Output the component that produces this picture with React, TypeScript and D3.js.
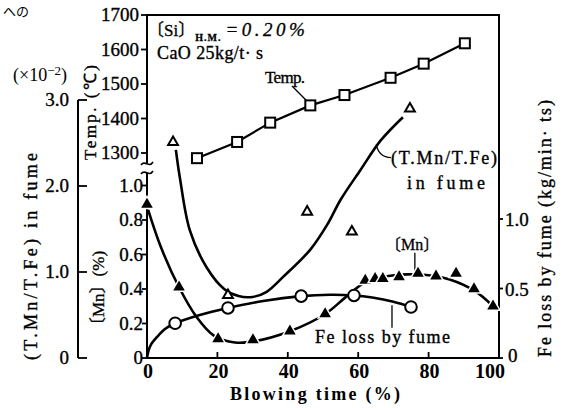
import React from 'react';
import * as d3 from 'd3';

// ---- Data ----
const xTicks = [0, 20, 40, 60, 80, 100];
const tempTicks = [1300, 1400, 1500, 1600, 1700];
const mnTicks = [0, 0.2, 0.4, 0.6, 0.8, 1.0];
const ratioTicks = [0, 1.0, 2.0, 3.0];
const feTicks = [0, 0.5, 1.0];

// Temperature (open squares)
const tempX = [14.2, 25.6, 35.0, 46.4, 56.1, 69.2, 78.6, 90.3];
const tempY = [1285, 1332, 1388, 1438, 1468, 1518, 1559, 1618];

// (T.Mn/T.Fe) in fume, x10^-2 (open triangles) and its fitted curve
const ratioX = [7.4, 23.0, 45.5, 58.2, 74.7];
const ratioY = [2.51, 0.73, 1.70, 1.47, 2.90];
const ratioFitX = [8.2, 9.4, 12.2, 17.0, 22.0, 26.0, 30.0, 34.0, 38.6, 46.4, 51.2, 55.0, 60.7, 66.4, 72.7];
const ratioFitY = [2.42, 2.08, 1.48, 1.05, 0.80, 0.72, 0.71, 0.77, 0.94, 1.26, 1.55, 1.84, 2.19, 2.53, 2.80];

// [Mn] (%) (filled triangles) and its fitted curve
const mnX = [0, 9.1, 20.2, 30.1, 40.6, 50.6, 62.0, 64.8, 67.0, 71.6, 77.0, 82.1, 87.8, 92.9, 98.3];
const mnY = [0.89, 0.41, 0.11, 0.105, 0.155, 0.255, 0.45, 0.46, 0.46, 0.47, 0.49, 0.475, 0.49, 0.40, 0.30];
const mnFitX = [0.3, 4, 9.1, 14, 19, 25, 30, 40.6, 50.6, 56.3, 62, 67, 74, 80, 86, 93, 98.3];
const mnFitY = [0.86, 0.64, 0.41, 0.24, 0.13, 0.09, 0.095, 0.155, 0.255, 0.35, 0.44, 0.47, 0.485, 0.48, 0.455, 0.39, 0.30];

// Fe loss by fume (kg/min·ts) (open circles) and its fitted curve
const feX = [8.0, 23.0, 43.8, 58.8, 75.0];
const feY = [0.25, 0.36, 0.445, 0.45, 0.367];
const feFitX = [0, 0.4, 1.2, 2.8, 5.2, 8.0, 15, 23, 33, 43.8, 52, 58.8, 64, 70, 75];
const feFitY = [0, 0.05, 0.1, 0.15, 0.21, 0.25, 0.31, 0.36, 0.41, 0.445, 0.455, 0.45, 0.435, 0.405, 0.367];

const serif = "Liberation Serif, Times New Roman, serif";
const cjk = "Liberation Serif, Noto Sans CJK JP, serif";

export default function App() {
  const W = 565, H = 408;
  const x = d3.scaleLinear().domain([0, 100]).range([147, 499]);
  const yTemp = d3.scaleLinear().domain([1300, 1700]).range([153, 15]);
  const yMn = d3.scaleLinear().domain([0, 1]).range([358, 185.5]);
  const yRatio = d3.scaleLinear().domain([0, 3]).range([358, 100]);
  const yFe = d3.scaleLinear().domain([0, 1]).range([358, 219]);

  const curve = d3.curveCatmullRom.alpha(0.5);
  const fit = (xs: number[], ys: number[], ys2: (v: number) => number) =>
    d3.line<number>().x((_, i) => x(xs[i])).y((_, i) => ys2(ys[i])).curve(curve)(xs) || '';

  const tempLine = d3.line<number>().x((_, i) => x(tempX[i])).y((_, i) => yTemp(tempY[i]))(tempX) || '';
  const ratioPath = fit(ratioFitX, ratioFitY, yRatio);
  const mnPath = fit(mnFitX, mnFitY, yMn);
  const fePath = fit(feFitX, feFitY, yFe);

  const triOpen = d3.symbol(d3.symbolTriangle, 42)() || '';
  const triFill = d3.symbol(d3.symbolTriangle, 58)() || '';
  const triHalo = d3.symbol(d3.symbolTriangle, 120)() || '';

  const L = x(0), R = x(100), T = yTemp(1700), B = yMn(0);
  const txt = { fontFamily: serif, fill: '#000' } as const;
  const num = { fontFamily: serif, fill: '#000', stroke: '#000', strokeWidth: 0.35 } as const;
  const txtC = { fontFamily: cjk, fill: '#000', stroke: '#000', strokeWidth: 0.3 } as const;

  // leader positions (data units converted through scales)
  const tLead = [x(41.2), yTemp(1494), x(45.5), yTemp(1450)];
  const rL0 = [x(65.1), yRatio(2.48)], rL1 = [x(69.3), yRatio(2.33)];
  const mnLead = [x(76.1), yMn(0.61), yMn(0.505)];
  const feLead = [x(69.6), yFe(0.38), yFe(0.218)];

  return (
    <svg width={W} height={H} fontFamily={serif} style={{ position: 'absolute', left: 0, top: 0, background: '#fff' }}>
      <rect width={W} height={H} fill="#fff" />
      {/* heading fragment */}
      <text x={3} y={16} fontSize={13} style={{ fontFamily: "Noto Sans CJK JP, sans-serif", fill: '#000' }}>への</text>

      {/* frame */}
      <rect x={L} y={T} width={R - L} height={B - T} fill="none" stroke="#000" strokeWidth={2} />
      {/* axis break on left spine */}
      <rect x={L - 3} y={163} width={6} height={10} fill="#fff" />
      <path d={`M${L - 6},165 C${L - 2},159 ${L + 2},169 ${L + 6},162`} fill="none" stroke="#000" strokeWidth={1.6} />
      <path d={`M${L - 6},174 C${L - 2},168 ${L + 2},178 ${L + 6},171`} fill="none" stroke="#000" strokeWidth={1.6} />

      {/* x ticks (inward) */}
      {xTicks.map((t, i) => (
        <g key={'xt' + t}>
          {t > 0 && t < 100 && <line x1={x(t)} x2={x(t)} y1={B} y2={B - 6} stroke="#000" strokeWidth={1.8} />}
          <text x={x(t)} dx={i === xTicks.length - 1 ? -9 : 1} y={378} fontSize={20} fontWeight="bold" textAnchor="middle" style={txt}>{t}</text>
        </g>
      ))}
      <text x={230} y={400} fontSize={18} fontWeight="bold" textLength={170} lengthAdjust="spacing" style={txt}>Blowing time (%)</text>

      {/* Temp axis */}
      {tempTicks.map(t => (
        <g key={'tt' + t}>
          <line x1={L - 6} x2={L} y1={yTemp(t)} y2={yTemp(t)} stroke="#000" strokeWidth={1.8} />
          <text x={139} y={yTemp(t) + 6} fontSize={19} textAnchor="end" style={num}>{t}</text>
        </g>
      ))}
      <text transform="translate(96,160) rotate(-90)" fontSize={17} textLength={95} lengthAdjust="spacing" style={num}>Temp. (℃)</text>

      {/* Mn axis */}
      {mnTicks.map(t => (
        <g key={'mt' + t}>
          <line x1={L - 5} x2={L} y1={yMn(t)} y2={yMn(t)} stroke="#000" strokeWidth={1.8} />
          <text x={143} y={yMn(t) + 6} fontSize={19} textAnchor="end" style={num}>{t === 0 ? '0' : t.toFixed(1)}</text>
        </g>
      ))}
      <text transform="translate(104,334) rotate(-90)" fontSize={17} style={txtC}>〔Mn〕(%)</text>

      {/* (T.Mn/T.Fe) axis (outer left) */}
      <line x1={78} x2={78} y1={yRatio(3)} y2={yRatio(0)} stroke="#000" strokeWidth={2} />
      {ratioTicks.map(t => (
        <g key={'rt' + t}>
          <line x1={78} x2={87} y1={yRatio(t)} y2={yRatio(t)} stroke="#000" strokeWidth={1.8} />
          <text x={69} y={yRatio(t) + 6} fontSize={19} textAnchor="end" style={num}>{t === 0 ? '0' : t.toFixed(1)}</text>
        </g>
      ))}
      <text x={13} y={81} fontSize={18} style={txt}>(×10<tspan dy={-6} fontSize={13}>−2</tspan><tspan dy={6}>)</tspan></text>
      <text transform="translate(37,360) rotate(-90)" fontSize={18} textLength={207} lengthAdjust="spacing" style={num}>(T.Mn/T.Fe) in fume</text>

      {/* Fe loss axis (right) */}
      {feTicks.map(t => (
        <g key={'ft' + t}>
          <line x1={R} x2={R + 4} y1={yFe(t)} y2={yFe(t)} stroke="#000" strokeWidth={1.8} />
          <text x={t === 0 ? 508 : 505} y={yFe(t) + (t === 0 ? 4 : 7)} fontSize={19} style={num}>{t === 0 ? '0' : t.toFixed(1)}</text>
        </g>
      ))}
      <text transform="translate(551,357) rotate(-90)" fontSize={18} textLength={257} lengthAdjust="spacing" style={num}>Fe loss by fume (kg/min· ts)</text>

      {/* annotations */}
      <text x={147} y={36} fontSize={17} style={txtC}>
        〔Si〕<tspan dy={5} fontSize={10} fontWeight="bold" letterSpacing={1} style={{ fontFamily: serif }}>H.M.</tspan>
        <tspan dx={4} dy={-5} fontSize={19} fontStyle="italic" letterSpacing={3.5} style={{ fontFamily: serif }}>=0.20%</tspan>
      </text>
      <text x={157} y={59} fontSize={18} textLength={106} lengthAdjust="spacing" style={num}>CaO 25kg/t· s</text>
      <text x={265} y={83} fontSize={17} textLength={40} lengthAdjust="spacing" style={num}>Temp.</text>
      <line x1={tLead[0]} y1={tLead[1]} x2={tLead[2]} y2={tLead[3]} stroke="#000" strokeWidth={1.3} />
      <text x={391} y={164} fontSize={18} textLength={106} lengthAdjust="spacing" style={num}>(T.Mn/T.Fe)</text>
      <text x={407} y={189} fontSize={18} textLength={78} lengthAdjust="spacing" style={num}>in fume</text>
      <path d={`M${rL0[0]},${rL0[1]} Q${rL0[0] + 3},${rL1[1]} ${rL1[0]},${rL1[1]}`} fill="none" stroke="#000" strokeWidth={1.3} />
      <text x={385} y={250} fontSize={16} style={txtC}>〔Mn〕</text>
      <line x1={mnLead[0]} x2={mnLead[0]} y1={mnLead[1]} y2={mnLead[2]} stroke="#000" strokeWidth={1.3} />
      <text x={315} y={343} fontSize={18} textLength={135} lengthAdjust="spacing" style={num}>Fe loss by fume</text>
      <line x1={feLead[0]} x2={feLead[0]} y1={feLead[1]} y2={feLead[2]} stroke="#000" strokeWidth={1.3} />

      {/* curves */}
      <path d={tempLine} fill="none" stroke="#000" strokeWidth={2.2} />
      <path d={ratioPath} fill="none" stroke="#000" strokeWidth={2.6} />
      <path d={fePath} fill="none" stroke="#000" strokeWidth={2.6} />
      <path d={mnPath} fill="none" stroke="#000" strokeWidth={2.6} />

      {/* markers */}
      {tempX.map((v, i) => (
        <rect key={'sq' + i} x={x(v) - 5} y={yTemp(tempY[i]) - 5} width={10} height={10} fill="#fff" stroke="#000" strokeWidth={2} />
      ))}
      {ratioX.map((v, i) => (
        <path key={'to' + i} d={triOpen} transform={`translate(${x(v)},${yRatio(ratioY[i])})`} fill="#fff" stroke="#000" strokeWidth={2} />
      ))}
      {feX.map((v, i) => (
        <circle key={'c' + i} cx={x(v)} cy={yFe(feY[i])} r={5.8} fill="#fff" stroke="#000" strokeWidth={2} />
      ))}
      {mnX.map((v, i) => (
        <g key={'tf' + i} transform={`translate(${x(v)},${yMn(mnY[i])})`}>
          <path d={triHalo} fill="#fff" />
          <path d={triFill} fill="#000" />
        </g>
      ))}
    </svg>
  );
}
